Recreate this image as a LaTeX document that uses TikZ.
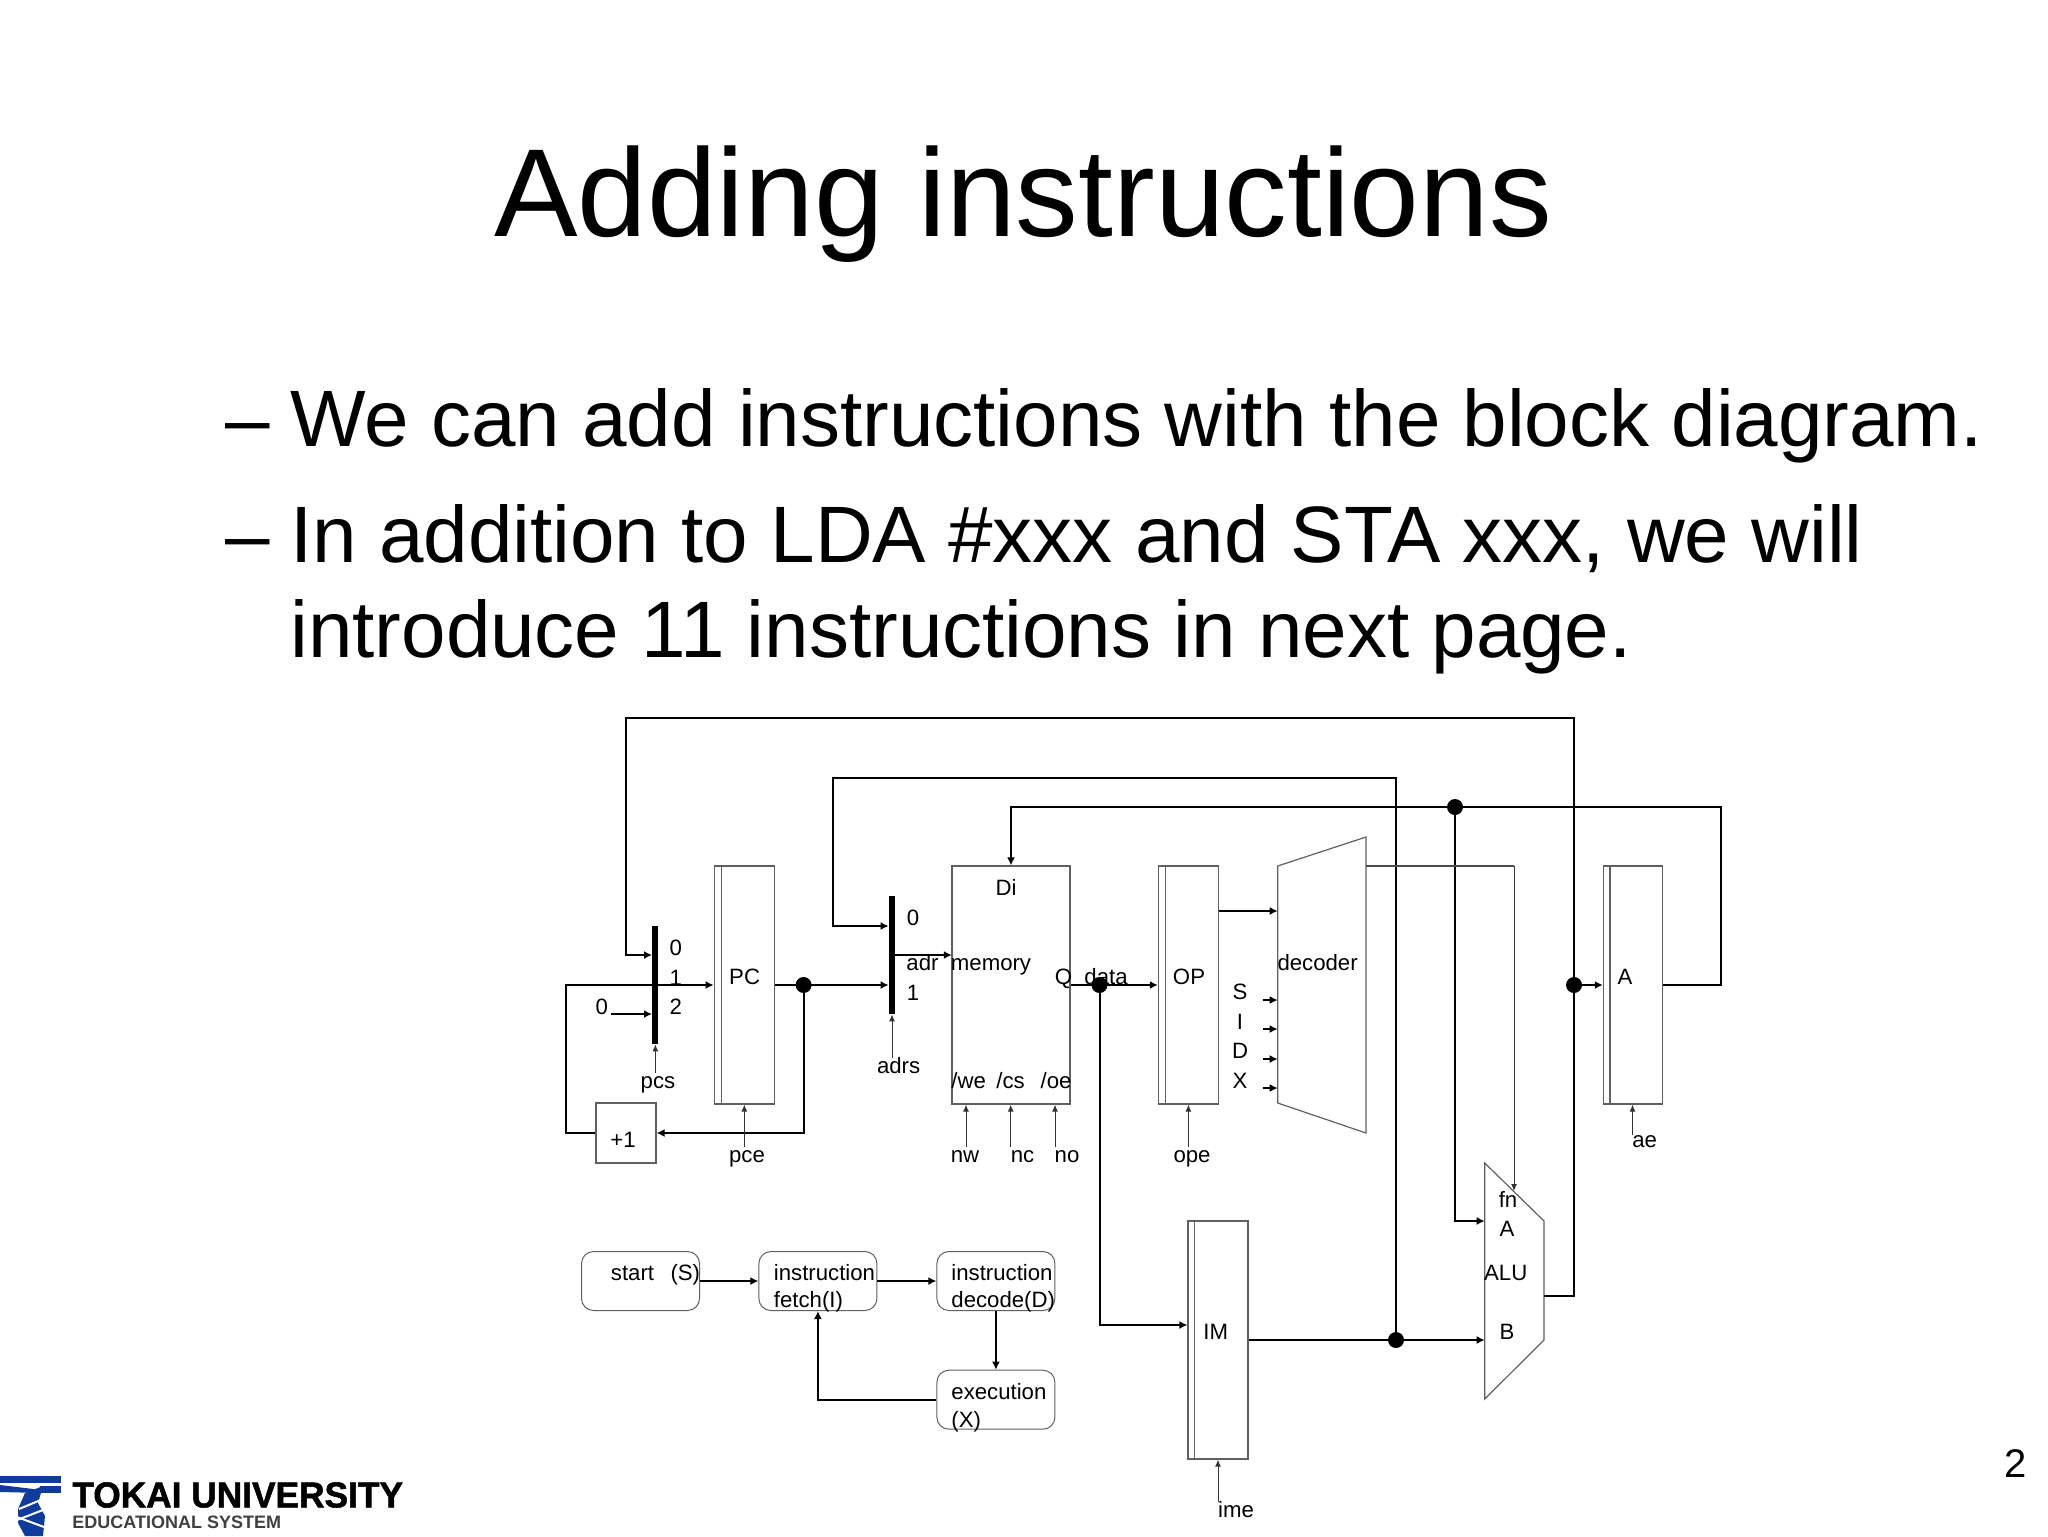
\documentclass[tikz,border=0pt]{standalone}
\usepackage{fontspec}
\setmainfont{Liberation Sans}
\newfontfamily\logofont[FakeBold=1.5]{Liberation Sans}
\usetikzlibrary{arrows.meta}
\definecolor{boxgray}{HTML}{606060}
\definecolor{logoblue}{HTML}{0F3C9C}
\tikzset{
  wire/.style={line width=1pt, black},
  wirearrow/.style={wire, -{Latex[length=4pt,width=4pt]}},
  ctrl/.style={line width=.5pt, black!80, -{Latex[length=3.5pt,width=3pt]}},
  thin box/.style={draw=boxgray, line width=.6pt},
  regbox/.style={thin box, inner sep=0pt, minimum height=119pt},
  membox/.style={regbox, minimum width=59pt},
  plusbox/.style={thin box, inner sep=0pt, minimum width=30pt, minimum height=30pt},
  statebox/.style={draw=boxgray, line width=.5pt, rounded corners=6pt, inner sep=0pt, minimum width=59pt, minimum height=29.5pt},
  muxbar/.style={fill=black, inner sep=0pt, minimum width=3pt, minimum height=59pt},
  wiredot/.style={circle, fill=black, inner sep=0pt, minimum size=8pt},
  lbl/.style={inner sep=0pt, yshift=.4pt, font=\fontsize{11.1}{13}\selectfont, text height=8pt, text depth=0pt},
  title/.style={inner sep=0pt, anchor=base, font=\fontsize{62.6}{70}\selectfont},
  bullet/.style={inner sep=0pt, anchor=base west, font=\fontsize{40}{46}\selectfont}
}
\begin{document}
\begin{tikzpicture}[x=.5pt, y=-.5pt]
  \useasboundingbox (0,0) rectangle (2048,1536);

  \node[title] (head) at (1023,236) {Adding instructions};
  \node[bullet] (dash1) at (225,446.5) {–};
  \node[bullet] (line1) at (290,446.5) {We can add instructions with the block diagram.};
  \node[bullet] (dash2) at (225,562) {–};
  \node[bullet] (line2) at (290,562) {In addition to LDA \#xxx and STA xxx, we will};
  \node[bullet] (line3) at (290,657) {introduce 11 instructions in next page.};
  \node[inner sep=0pt, font=\fontsize{20}{24}\selectfont] (pageno) at (2016,1464) {2};

  % registers and memory
  \node[regbox, minimum width=30pt] (pc) at (744.2,985) {};
  \node[membox] (mem) at (1011,985) {};
  \node[regbox, minimum width=30pt] (op) at (1188.4,985) {};
  \node[regbox, minimum width=29.5pt] (acc) at (1632.9,985) {};
  \node[regbox, minimum width=30pt] (im) at (1218,1340) {};
  \node[plusbox] (inc) at (626,1133) {};
  \draw[thin box] ([xshift=3.75pt]pc.south west) -- ([xshift=3.75pt]pc.north west);
  \draw[thin box] ([xshift=3.9pt]op.south west) -- ([xshift=3.9pt]op.north west);
  \draw[thin box] ([xshift=3.6pt]acc.south west) -- ([xshift=3.6pt]acc.north west);
  \draw[thin box] ([xshift=3.6pt]im.south west) -- ([xshift=3.6pt]im.north west);

  % muxes
  \node[muxbar] (mux1) at (655.4,985) {};
  \node[muxbar] (mux2) at (892,955) {};
  \coordinate (mux1a) at ([yshift=15pt]mux1.west);
  \coordinate (mux1b) at (mux1.west);
  \coordinate (mux1c) at ([yshift=-14.5pt]mux1.west);
  \coordinate (mux2a) at ([yshift=14.5pt]mux2.west);
  \coordinate (mux2b) at ([yshift=-15pt]mux2.west);

  % decoder and alu
  \coordinate (decnw) at (1277.7,866);
  \coordinate (decne) at (1366,837);
  \coordinate (decse) at (1366,1133);
  \coordinate (decsw) at (1277.7,1103);
  \draw[thin box] (decnw) -- (decne) -- (decse) -- (decsw) -- cycle;
  \coordinate (alunw) at (1484.7,1163);
  \coordinate (alune) at (1544,1221);
  \coordinate (aluse) at (1544,1340);
  \coordinate (alusw) at (1484.7,1399);
  \draw[thin box] (alunw) -- (alune) -- (aluse) -- (alusw) -- cycle;

  % junctions
  \node[wiredot] (pcdot) at (803.6,985) {};
  \node[wiredot] (qdot) at (1099.5,985) {};
  \node[wiredot] (accdot) at (1574,985) {};
  \node[wiredot] (didot) at (1455,807) {};
  \node[wiredot] (imdot) at (1396,1340) {};

  % buses
  \coordinate (aluout) at (1544,1296);
  \coordinate (alua) at (1484.7,1221);
  \coordinate (alub) at (1484.7,1340);
  \coordinate (aluf) at (1514,1191);
  \coordinate (top1r) at (1574,718);
  \coordinate (top1l) at (625.7,718);
  \coordinate (top2r) at (1396,778);
  \coordinate (top2l) at (833,778);
  \coordinate (dir) at (1721.4,807);
  \coordinate (dil) at (1011,807);
  \coordinate (imin) at (1099.5,1325);
  \coordinate (decin) at (1277.7,911);
  \coordinate (decout) at (1366,866);
  \coordinate (decbus) at (1514,866);
  \coordinate (memin) at (951.8,955);
  \coordinate (zero) at (611.4,1014);
  \coordinate (incout) at (566.4,1133);
  \draw[wirearrow] (aluout) -| (top1r) -- (top1l) |- (mux1a);
  \draw[wirearrow] (imdot) |- (top2r) -- (top2l) |- (mux2a);
  \draw[wirearrow] (acc.east) -| (dir) -- (dil) -- (mem.north);
  \draw[wirearrow] (didot) |- (alua);
  \draw[wirearrow] (im.east) -- (alub);
  \draw[wirearrow] (accdot) -- (acc.west);
  \draw[wirearrow] (mem.east) -- (op.west);
  \draw[wirearrow] (qdot) |- (im.west |- imin);
  \draw[wirearrow] (op.east |- decin) -- (decin);
  \draw[wirearrow] (mux2.east |- memin) -- (memin);
  \draw[wirearrow] (pc.east) -- (mux2b);
  \draw[wirearrow] (pcdot) |- (inc.east);
  \draw[wire] (inc.west) -- (incout) |- (mux1b);
  \draw[wirearrow] (mux1b) -- (pc.west);
  \draw[wirearrow] (zero) -- (mux1c);
  \draw[line width=.55pt, black!70] (decout) -- (decbus);
  \draw[ctrl] (decbus) -- (aluf);

  % decoder status inputs
  \coordinate (sfrom) at (1262.6,1000);
  \coordinate (ifrom) at (1262.6,1029);
  \coordinate (dfrom) at (1262.6,1059);
  \coordinate (xfrom) at (1262.6,1088);
  \draw[wirearrow] (sfrom) -- (sfrom -| decsw);
  \draw[wirearrow] (ifrom) -- (ifrom -| decsw);
  \draw[wirearrow] (dfrom) -- (dfrom -| decsw);
  \draw[wirearrow] (xfrom) -- (xfrom -| decsw);

  % control signals
  \coordinate (pcsfrom) at (655.4,1073);
  \coordinate (adrsfrom) at (892,1058);
  \coordinate (pcefrom) at (744.3,1147);
  \coordinate (nwfrom) at (966,1147);
  \coordinate (ncfrom) at (1010.7,1147);
  \coordinate (nofrom) at (1055,1147);
  \coordinate (opefrom) at (1188.4,1147);
  \coordinate (aefrom) at (1632.5,1135);
  \coordinate (imefrom) at (1218,1502);
  \draw[ctrl] (pcsfrom) -- (mux1.south);
  \draw[ctrl] (adrsfrom) -- (mux2.south);
  \draw[ctrl] (pcefrom) -- (pcefrom |- pc.south);
  \draw[ctrl] (nwfrom) -- (nwfrom |- mem.south);
  \draw[ctrl] (ncfrom) -- (ncfrom |- mem.south);
  \draw[ctrl] (nofrom) -- (nofrom |- mem.south);
  \draw[ctrl] (opefrom) -- (opefrom |- op.south);
  \draw[ctrl] (aefrom) -- (aefrom |- acc.south);
  \draw[ctrl] (imefrom) -- (imefrom |- im.south);

  % labels of the datapath
  \node[lbl] (pclbl) at (744.6,977) {PC};
  \node[lbl] (oplbl) at (1189,977) {OP};
  \node[lbl] (acclbl) at (1625,977) {A};
  \node[lbl] (imlbl) at (1215.7,1332) {IM};
  \node[lbl] (inclbl) at (623,1140) {+1};
  \node[lbl] (in0lbl) at (675.7,948) {0};
  \node[lbl] (in1lbl) at (675.7,978) {1};
  \node[lbl] (in2lbl) at (675.7,1007) {2};
  \node[lbl] (zerolbl) at (601.8,1007) {0};
  \node[lbl] (ad0lbl) at (913,918) {0};
  \node[lbl] (ad1lbl) at (913,993) {1};
  \node[lbl] (adrlbl) at (922.5,963) {adr};
  \node[lbl] (memlbl) at (991,963) {memory};
  \node[lbl] (dilbl) at (1006,888) {Di};
  \node[lbl] (qlbl) at (1063.6,977) {Q};
  \node[lbl] (datalbl) at (1106,977) {data};
  \node[lbl] (welbl) at (968.6,1081) {/we};
  \node[lbl] (cslbl) at (1010.6,1081) {/cs};
  \node[lbl] (oelbl) at (1056,1081) {/oe};
  \node[lbl] (nwlbl) at (965,1155) {nw};
  \node[lbl] (nclbl) at (1022.5,1155) {nc};
  \node[lbl] (nolbl) at (1067,1155) {no};
  \node[lbl] (pcslbl) at (658,1081) {pcs};
  \node[lbl] (adrslbl) at (898.6,1066) {adrs};
  \node[lbl] (pcelbl) at (747,1155) {pce};
  \node[lbl] (opelbl) at (1192,1155) {ope};
  \node[lbl] (aelbl) at (1644.6,1140) {ae};
  \node[lbl] (imelbl) at (1236,1510) {ime};
  \node[lbl] (declbl) at (1317.6,963) {decoder};
  \node[lbl] (slbl) at (1240,992) {S};
  \node[lbl] (ilbl) at (1240,1022) {I};
  \node[lbl] (dlbl) at (1240,1051) {D};
  \node[lbl] (xlbl) at (1240,1081) {X};
  \node[lbl] (fnlbl) at (1508,1200) {fn};
  \node[lbl] (alualbl) at (1507,1229) {A};
  \node[lbl] (alulbl) at (1505.7,1273) {ALU};
  \node[lbl] (alublbl) at (1507,1332) {B};

  % state machine
  \node[statebox] (start) at (640.5,1281) {};
  \node[statebox] (fetch) at (817.9,1281) {};
  \node[statebox] (decode) at (995.9,1281) {};
  \node[statebox] (exec) at (995.9,1399.7) {};
  \draw[wirearrow] (start) -- (fetch);
  \draw[wirearrow] (fetch) -- (decode);
  \draw[wirearrow] (decode) -- (exec);
  \draw[wirearrow] (exec) -| (fetch);
  \node[lbl, anchor=west] (startlbl) at (610.5,1273) {start};
  \node[lbl, anchor=east] (slbl2) at (700.5,1273) {(S)};
  \node[lbl, anchor=west] (fetch1) at (773.5,1273) {instruction};
  \node[lbl, anchor=west] (fetch2) at (773.5,1300.5) {fetch(I)};
  \node[lbl, anchor=west] (decode1) at (951,1273) {instruction};
  \node[lbl, anchor=west] (decode2) at (951,1300.5) {decode(D)};
  \node[lbl, anchor=west] (exec1) at (951,1392.7) {execution};
  \node[lbl, anchor=west] (exec2) at (951,1420) {(X)};

  % logo
  \fill[logoblue] (0,1476) rectangle (61,1483);
  \fill[logoblue] (40,1486) rectangle (61,1493);
  \fill[logoblue] (0,1485) -- (42,1490) -- (42,1493) -- (0,1492) -- cycle;
  \fill[logoblue] (25,1493) -- (43,1486) -- (38,1503) -- (45,1516) -- (43,1536) -- (25,1536) -- (18,1523) -- (18,1509) -- cycle;
  \draw[white, line width=1pt] (19,1509) -- (43,1499);
  \draw[white, line width=1pt] (17,1520) -- (43,1510);
  \draw[white, line width=1pt] (17,1517) -- (44,1527);
  \node[inner sep=0pt, anchor=west, font=\fontsize{18}{20}\logofont\bfseries, xscale=.98] (logo1) at (72,1495) {TOKAI UNIVERSITY};
  \node[inner sep=0pt, anchor=west, text=black!75, font=\fontsize{9}{11}\selectfont\bfseries] (logo2) at (72,1522) {EDUCATIONAL SYSTEM};
\end{tikzpicture}
\end{document}
